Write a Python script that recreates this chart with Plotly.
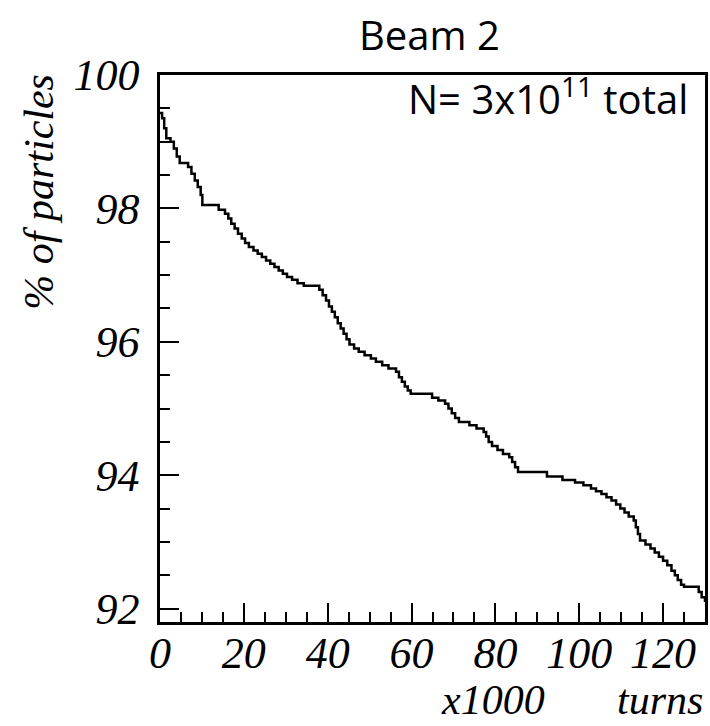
import plotly.graph_objects as go

# (x in thousands of turns, y in % of particles)
turns_k = [0.0, 0.5, 1.0, 1.5, 2.5, 3.3, 4.0, 4.7, 6.7, 7.5, 8.3, 9.0, 9.7, 10.1,
           14.0, 15.5, 16.3, 17.0, 17.8, 18.6, 19.5, 20.3, 21.2, 22.3, 23.3, 24.3,
           25.3, 26.3, 27.3, 28.3, 29.3, 30.3, 31.5, 32.8, 34.3, 38.0, 38.8, 39.6,
           40.3, 41.0, 41.7, 42.4, 43.1, 43.8, 44.5, 45.2, 46.3, 47.4, 48.8, 50.3,
           51.5, 53.0, 54.5, 56.3, 57.0, 57.7, 58.4, 59.1, 59.8, 64.9, 66.4, 68.0,
           68.8, 69.6, 70.4, 71.3, 73.8, 75.5, 77.2, 77.8, 78.4, 79.2, 80.5, 81.8,
           83.3, 84.0, 84.7, 85.4, 92.3, 96.0, 99.0, 101.0, 102.8, 104.0, 105.3,
           106.5, 107.7, 108.8, 109.8, 110.8, 111.8, 113.0, 113.5, 114.0, 114.5,
           115.8, 117.0, 118.0, 119.0, 120.0, 121.0, 122.0, 122.8, 123.5, 124.3,
           125.0, 128.5, 129.2, 130.0]
percent = [99.43, 99.35, 99.2, 99.05, 99.0, 98.9, 98.78, 98.68, 98.62, 98.52, 98.42,
           98.32, 98.2, 98.05, 97.98, 97.92, 97.85, 97.77, 97.7, 97.62, 97.55, 97.48,
           97.42, 97.37, 97.32, 97.27, 97.22, 97.17, 97.12, 97.07, 97.02, 96.97,
           96.93, 96.88, 96.84, 96.78, 96.70, 96.62, 96.53, 96.45, 96.37, 96.28,
           96.2, 96.12, 96.04, 95.96, 95.9, 95.85, 95.8, 95.75, 95.7, 95.65, 95.6,
           95.55, 95.47, 95.4, 95.33, 95.27, 95.22, 95.16, 95.12, 95.07, 95.0, 94.93,
           94.86, 94.8, 94.75, 94.7, 94.65, 94.58, 94.5, 94.44, 94.38, 94.32, 94.27,
           94.2, 94.12, 94.05, 93.98, 93.93, 93.89, 93.85, 93.8, 93.76, 93.72, 93.67,
           93.62, 93.56, 93.5, 93.44, 93.38, 93.32, 93.22, 93.12, 93.02, 92.96, 92.9,
           92.84, 92.78, 92.72, 92.65, 92.57, 92.5, 92.43, 92.36, 92.33, 92.25, 92.17,
           92.1]

x_ticks = [0, 20, 40, 60, 80, 100, 120]
y_ticks = [92, 94, 96, 98, 100]

title_text = "Beam 2"
note_text = "N= 3x10<sup>11</sup> total"
y_title = "% of particles"
x_title_left = "x1000"
x_title_right = "turns"

serif = dict(family="Liberation Serif", size=44, style="italic", color="black")
serif_t = dict(family="Liberation Serif", size=42, style="italic", color="black")
sans = dict(family="Open Sans", size=40, color="black")

fig = go.Figure()
fig.add_trace(go.Scatter(x=turns_k, y=percent, mode="lines", line_shape="hv",
                         line=dict(color="black", width=2.5), showlegend=False))

L, R, T, B = 160, 2, 75, 104
W, H = 710, 726
pw, ph = W - L - R, H - T - B

def px(xp):
    return (xp - L) / pw

def py(yp):
    return (H - B - yp) / ph

fig.update_layout(
    width=W, height=H,
    margin=dict(l=L, r=R, t=T, b=B),
    paper_bgcolor="white", plot_bgcolor="white",
    xaxis=dict(range=[0, 130], tickvals=x_ticks, ticktext=[str(v) for v in x_ticks],
               showline=True, linecolor="black", linewidth=2.5, mirror=True,
               ticks="inside", ticklen=19, tickwidth=2, tickcolor="black",
               minor=dict(dtick=5, tick0=0, ticks="inside", ticklen=10, tickwidth=2,
                          tickcolor="black", showgrid=False),
               showgrid=False, zeroline=False, tickfont=serif, ticklabelstandoff=-10),
    yaxis=dict(range=[91.8, 100], tickvals=y_ticks, ticktext=[str(v) for v in y_ticks],
               showline=True, linecolor="black", linewidth=2.5, mirror=True,
               ticks="inside", ticklen=19, tickwidth=2, tickcolor="black",
               minor=dict(dtick=0.5, tick0=92, ticks="inside", ticklen=10, tickwidth=2,
                          tickcolor="black", showgrid=False),
               showgrid=False, zeroline=False, tickfont=serif, ticklabelstandoff=9),
    annotations=[
        dict(text=title_text, x=px(431), y=py(35), xref="paper", yref="paper",
             xanchor="center", yanchor="middle", showarrow=False, font=sans),
        dict(text=note_text, x=px(693), y=py(97), xref="paper", yref="paper",
             xanchor="right", yanchor="middle", showarrow=False, font=sans),
        dict(text=y_title, x=px(38), y=py(192), xref="paper", yref="paper",
             xanchor="center", yanchor="middle", textangle=-90, showarrow=False,
             font=serif_t),
        dict(text=x_title_left, x=px(495), y=py(700), xref="paper", yref="paper",
             xanchor="center", yanchor="middle", showarrow=False, font=serif_t,
             borderpad=0),
        dict(text=x_title_right, x=px(707), y=py(700), xref="paper", yref="paper",
             xanchor="right", yanchor="middle", showarrow=False, font=serif_t,
             borderpad=0),
    ],
)

fig.write_html("out.html")
